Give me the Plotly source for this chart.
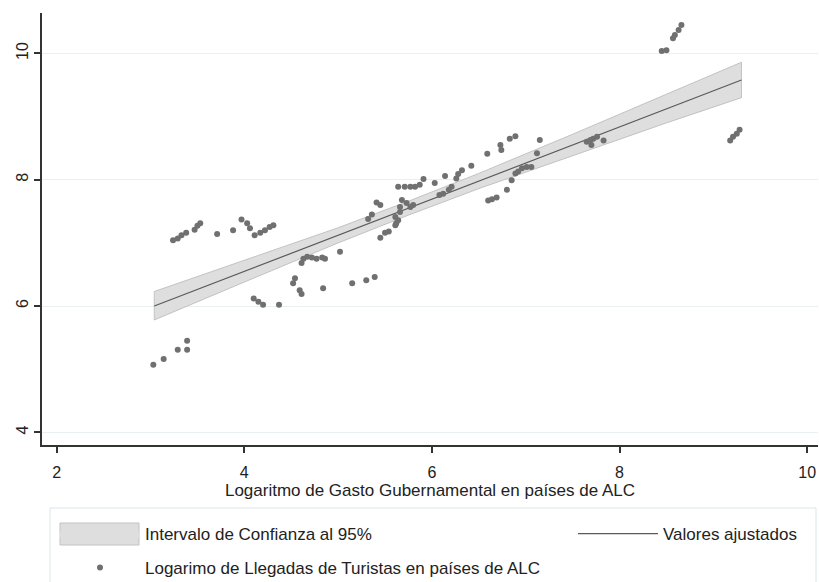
import plotly.graph_objects as go

# Logarithm of government spending (x) vs. tourist arrivals (y), LAC countries
gasto = [3.03, 3.14, 3.29, 3.39, 3.39,
         3.24, 3.29, 3.33, 3.38, 3.47, 3.50, 3.53, 3.71, 3.88, 3.97, 4.03, 4.06,
         4.11, 4.17, 4.22, 4.27, 4.31,
         4.10, 4.15, 4.20, 4.37,
         4.54, 4.52, 4.59, 4.61, 4.84, 5.15, 5.30, 5.39,
         4.61, 4.63, 4.67, 4.72, 4.77, 4.83, 4.86, 5.02,
         5.32, 5.36, 5.41, 5.45, 5.45, 5.50, 5.54, 5.61, 5.61, 5.64, 5.62,
         5.66, 5.66, 5.68, 5.73, 5.77, 5.80, 5.64,
         5.71, 5.77, 5.82, 5.87, 5.91, 6.03, 6.14, 6.26, 6.28, 6.32, 6.42,
         6.08, 6.12, 6.18, 6.21,
         6.59, 6.74, 6.73, 6.83, 6.89, 7.15,
         6.60, 6.64, 6.69, 6.80, 6.85, 6.89, 6.92, 6.96, 7.01, 7.06, 7.12,
         7.65, 7.69, 7.70, 7.72, 7.76, 7.83,
         8.45, 8.50, 8.57, 8.59, 8.63, 8.66,
         9.18, 9.21, 9.25, 9.28]
llegadas = [5.07, 5.16, 5.31, 5.31, 5.45,
            7.04, 7.07, 7.12, 7.16, 7.21, 7.27, 7.31, 7.14, 7.20, 7.37, 7.31, 7.23,
            7.12, 7.16, 7.20, 7.25, 7.28,
            6.12, 6.07, 6.02, 6.02,
            6.44, 6.36, 6.25, 6.19, 6.28, 6.36, 6.41, 6.46,
            6.68, 6.75, 6.78, 6.77, 6.75, 6.77, 6.75, 6.86,
            7.38, 7.45, 7.64, 7.60, 7.08, 7.16, 7.18, 7.28, 7.41, 7.36, 7.31,
            7.49, 7.57, 7.68, 7.63, 7.57, 7.60, 7.89,
            7.89, 7.89, 7.89, 7.92, 8.01, 7.95, 8.06, 8.02, 8.09, 8.15, 8.22,
            7.76, 7.78, 7.84, 7.89,
            8.41, 8.47, 8.55, 8.65, 8.69, 8.63,
            7.67, 7.69, 7.72, 7.84, 7.99, 8.10, 8.13, 8.18, 8.20, 8.20, 8.42,
            8.60, 8.63, 8.55, 8.65, 8.68, 8.62,
            10.04, 10.05, 10.24, 10.29, 10.37, 10.45,
            8.62, 8.68, 8.73, 8.79]

# Fitted values and 95% confidence band
fit_x = [3.04, 4.0, 5.0, 5.75, 6.5, 7.5, 8.5, 9.30]
fit_y = [6.00, 6.55, 7.12, 7.55, 7.98, 8.55, 9.12, 9.58]
ci_upper = [6.23, 6.72, 7.24, 7.66, 8.10, 8.72, 9.35, 9.86]
ci_lower = [5.78, 6.38, 7.00, 7.44, 7.86, 8.38, 8.90, 9.30]

x_ticks = [2, 4, 6, 8, 10]
y_ticks = [4, 6, 8, 10]

FONT = "Liberation Sans, Arial, sans-serif"
TXT = "#222222"
BAND_FILL = "#dedede"
BAND_EDGE = "#c2c2c2"

band_x = fit_x + fit_x[::-1] + fit_x[:1]
band_y = ci_upper + ci_lower[::-1] + ci_upper[:1]

fig = go.Figure()

# shaded confidence band
fig.add_trace(go.Scatter(
    x=band_x, y=band_y,
    fill="toself", fillcolor=BAND_FILL,
    line=dict(width=0),
    mode="lines", name="Intervalo de Confianza al 95%",
    legend="legend2", hoverinfo="skip"))

# thin outline of the band
fig.add_trace(go.Scatter(
    x=band_x, y=band_y, mode="lines",
    line=dict(color=BAND_EDGE, width=1),
    showlegend=False, hoverinfo="skip"))

fig.add_trace(go.Scatter(
    x=fit_x, y=fit_y, mode="lines",
    line=dict(color="#5a5a5a", width=1.2),
    name="Valores ajustados", legend="legend3"))

fig.add_trace(go.Scatter(
    x=gasto, y=llegadas, mode="markers",
    marker=dict(color="#707070", size=6, line=dict(width=0)),
    name="Logarimo de Llegadas de Turistas en países de ALC",
    legend="legend4"))

W, H = 819, 582
L, R, T, B = 42, 1, 13, 137
PW, PH = W - L - R, H - T - B


def px_x(p):
    return (p - L) / PW


def px_y(p):
    return (H - B - p) / PH


def legend_box(x, y):
    return dict(orientation="h", x=px_x(x), y=px_y(y),
                xanchor="left", yanchor="middle", itemwidth=80,
                bgcolor="rgba(0,0,0,0)", borderwidth=0,
                font=dict(size=17, color=TXT))


fig.update_layout(
    width=W, height=H,
    margin=dict(l=L, r=R, t=T, b=B, autoexpand=False),
    paper_bgcolor="white", plot_bgcolor="white",
    font=dict(family=FONT, size=17, color=TXT),
    hovermode=False,
    legend2=legend_box(55, 534),
    legend3=legend_box(573, 534),
    legend4=legend_box(55, 568),
    shapes=[
        # frame around the key
        dict(type="rect", xref="paper", yref="paper",
             x0=px_x(50), x1=px_x(816), y0=px_y(508), y1=px_y(600),
             line=dict(color="#dce5ea", width=1), fillcolor="rgba(0,0,0,0)",
             layer="below"),
        # confidence-band key swatch
        dict(type="rect", xref="paper", yref="paper",
             x0=px_x(60), x1=px_x(139), y0=px_y(545), y1=px_y(523),
             line=dict(color=BAND_EDGE, width=1), fillcolor=BAND_FILL,
             layer="below"),
    ],
)

fig.update_xaxes(
    range=[1.843, 10.116], tickvals=x_ticks, ticktext=[str(v) for v in x_ticks],
    showgrid=False, zeroline=False, automargin=False,
    showline=True, linecolor="#333333", linewidth=2,
    ticks="outside", ticklen=6, tickwidth=2, tickcolor="#333333",
    ticklabelstandoff=6, tickfont=dict(size=16, color=TXT),
    title=dict(text="Logaritmo de Gasto Gubernamental en países de ALC",
               font=dict(size=17, color=TXT), standoff=0))

fig.update_yaxes(
    range=[3.80, 10.64], tickvals=y_ticks, ticktext=[str(v) for v in y_ticks],
    showgrid=True, gridcolor="#e8f0f2", gridwidth=1, zeroline=False,
    automargin=False,
    showline=True, linecolor="#333333", linewidth=2,
    ticks="outside", ticklen=6, tickwidth=2, tickcolor="#333333",
    tickangle=-90, ticklabelstandoff=0, tickfont=dict(size=16, color=TXT))

fig.write_html("out.html")
